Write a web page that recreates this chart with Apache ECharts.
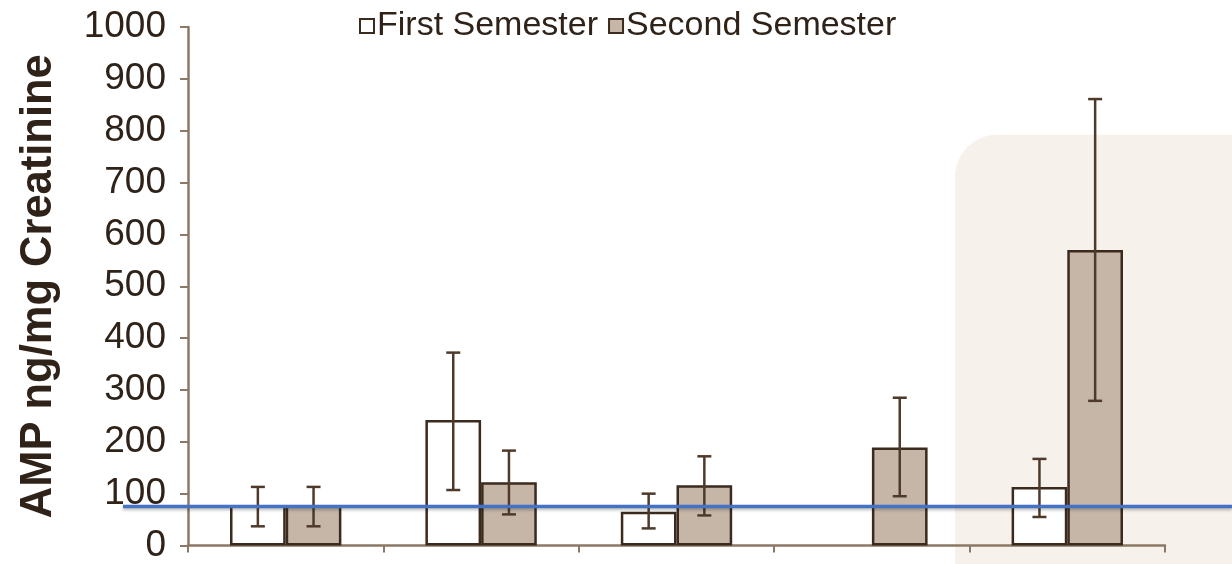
<!DOCTYPE html>
<html>
<head>
<meta charset="utf-8">
<script src="https://cdn.jsdelivr.net/npm/echarts@6/dist/echarts.min.js"></script>
<style>
  html, body { margin: 0; padding: 0; background: #ffffff; }
  #chart { width: 1232px; height: 564px; }
</style>
</head>
<body>
<div id="chart"></div>
<script>
// Groups along the x axis (labels are not shown on the axis)
const categories = ['G1', 'G2', 'G3', 'G4', 'G5'];
const seriesNames = ['First Semester', 'Second Semester'];

// Mean AMP (ng/mg creatinine) per group
const firstSemester = [78, 242, 65, null, 113];
const secondSemester = [78, 122, 116, 189, 570];

// Error bar extents [low, high]
const firstErr = [[37, 113], [107, 372], [33, 100], null, [55, 167]];
const secondErr = [[37, 113], [60, 183], [58, 172], [95, 285], [279, 861]];

// Reference level drawn as a horizontal rule
const referenceLevel = 75;

const yTicks = [0, 100, 200, 300, 400, 500, 600, 700, 800, 900, 1000];

const FONT = '"Liberation Sans", Arial, sans-serif';
const TEXT = '#2e2219';
const AXIS = '#8c7866';
const EDGE = '#3b2a1e';
const WHISKER = '#4e3a2b';
const BAR_FRAC = 0.285;

const chart = echarts.init(document.getElementById('chart'));

function errorSeries(name, errs, side) {
  const data = errs.map((e, i) => e ? [i, e[0], e[1]] : [i, null, null]);
  return {
    type: 'custom',
    name: name + ' error',
    z: 5,
    silent: true,
    encode: { x: 0, y: [1, 2] },
    data: data,
    renderItem: function (params, api) {
      const lo = api.value(1), hi = api.value(2);
      if (lo == null || hi == null || isNaN(lo) || isNaN(hi)) return null;
      const idx = api.value(0);
      const band = api.size([1, 0])[0];
      const off = side * band * BAR_FRAC / 2;
      const pLo = api.coord([idx, lo]);
      const pHi = api.coord([idx, hi]);
      const x = pLo[0] + off;
      const cap = 7;
      const style = { stroke: WHISKER, lineWidth: 2.5 };
      return {
        type: 'group',
        children: [
          { type: 'line', shape: { x1: x, y1: pLo[1], x2: x, y2: pHi[1] }, style: style },
          { type: 'line', shape: { x1: x - cap, y1: pLo[1], x2: x + cap, y2: pLo[1] }, style: style },
          { type: 'line', shape: { x1: x - cap, y1: pHi[1], x2: x + cap, y2: pHi[1] }, style: style }
        ]
      };
    }
  };
}

const option = {
  backgroundColor: '#ffffff',
  animation: false,
  textStyle: { fontFamily: FONT },
  grid: { left: 188, right: 67, top: 27, bottom: 17 },
  legend: {
    data: seriesNames,
    left: 354,
    top: 4,
    itemWidth: 14,
    itemHeight: 14,
    itemGap: 10,
    icon: 'rect',
    textStyle: { fontFamily: FONT, fontSize: 34, color: TEXT, padding: [0, 0, 0, -2] }
  },
  xAxis: {
    type: 'category',
    data: categories,
    boundaryGap: true,
    axisLine: { lineStyle: { color: AXIS, width: 2.5 } },
    axisTick: { show: true, alignWithLabel: false, length: 7, lineStyle: { color: AXIS, width: 2 } },
    axisLabel: { show: false },
    splitLine: { show: false }
  },
  yAxis: {
    type: 'value',
    min: yTicks[0],
    max: yTicks[yTicks.length - 1],
    interval: yTicks[1] - yTicks[0],
    name: 'AMP ng/mg Creatinine',
    nameLocation: 'middle',
    nameGap: 127,
    nameTextStyle: { fontFamily: FONT, fontSize: 43.5, fontWeight: 'bold', color: TEXT },
    axisLine: { show: true, lineStyle: { color: AXIS, width: 2.5 } },
    axisTick: { show: true, inside: false, length: 8, lineStyle: { color: AXIS, width: 2 } },
    axisLabel: {
      fontFamily: FONT, fontSize: 37, color: TEXT, margin: 22,
      formatter: function (v) { return String(v); }
    },
    splitLine: { show: false }
  },
  series: [
    {
      name: seriesNames[0],
      type: 'bar',
      data: firstSemester,
      barWidth: (BAR_FRAC * 100) + '%',
      barGap: '0%',
      itemStyle: { color: '#ffffff', borderColor: EDGE, borderWidth: 2.5 },
      z: 3
    },
    {
      name: seriesNames[1],
      type: 'bar',
      data: secondSemester,
      barWidth: (BAR_FRAC * 100) + '%',
      barGap: '0%',
      itemStyle: { color: '#c6b6a8', borderColor: EDGE, borderWidth: 2.5 },
      z: 3
    },
    errorSeries(seriesNames[0], firstErr, -1),
    errorSeries(seriesNames[1], secondErr, 1)
  ]
};

chart.setOption(option);

// Shaded panel behind the last group and the horizontal reference rule
const lastCenter = chart.convertToPixel({ xAxisIndex: 0 }, categories[categories.length - 1]);
const band = chart.convertToPixel({ xAxisIndex: 0 }, categories[1]) - chart.convertToPixel({ xAxisIndex: 0 }, categories[0]);
const panelLeft = lastCenter - band * 0.575;
const panelTop = chart.convertToPixel({ yAxisIndex: 0 }, 792);
const refY = chart.convertToPixel({ yAxisIndex: 0 }, referenceLevel);

chart.setOption({
  graphic: [
    {
      type: 'rect',
      z: -10,
      silent: true,
      shape: { x: panelLeft, y: panelTop, width: 1232 - panelLeft + 60, height: 564 - panelTop + 60, r: 42 },
      style: { fill: '#f7f1eb' }
    },
    {
      type: 'line',
      z: 100,
      silent: true,
      shape: { x1: 123, y1: refY, x2: 1232, y2: refY },
      style: {
        stroke: '#4472c4',
        lineWidth: 3.5,
        shadowBlur: 3,
        shadowOffsetY: 2,
        shadowColor: 'rgba(0,0,0,0.25)'
      }
    }
  ]
});
</script>
</body>
</html>
